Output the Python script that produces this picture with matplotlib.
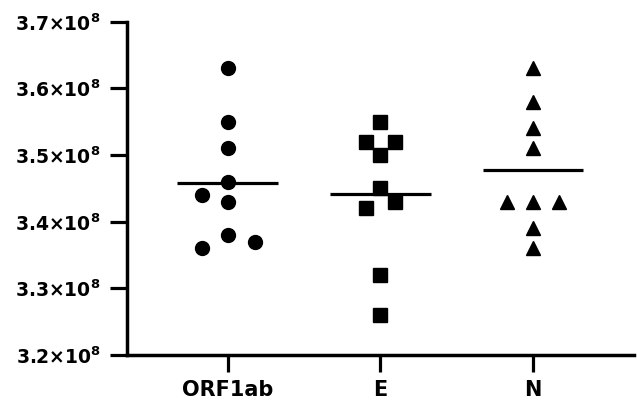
import numpy as np
import matplotlib
matplotlib.use("Agg")
from matplotlib import pyplot as plt
from matplotlib.ticker import FixedLocator, FuncFormatter

plt.rcParams['font.family'] = ['DejaVu Sans']
plt.rcParams['font.weight'] = 'bold'
plt.rcParams['mathtext.fontset'] = 'custom'
plt.rcParams['mathtext.rm'] = 'DejaVu Sans:bold'
plt.rcParams['mathtext.bf'] = 'DejaVu Sans:bold'
plt.rcParams['mathtext.it'] = 'DejaVu Sans:bold'

# data, values in units of 1e8
categories = ["ORF1ab", "E", "N"]
orf1ab = [3.63, 3.55, 3.51, 3.46, 3.44, 3.43, 3.38, 3.36, 3.37]
orf1ab_dx = [0, 0, 0, 0, -0.17, 0, 0, -0.17, 0.18]
e_gene = [3.55, 3.52, 3.52, 3.50, 3.45, 3.43, 3.42, 3.32, 3.26]
e_dx = [0, -0.095, 0.095, 0, 0, 0.095, -0.095, 0, 0]
n_gene = [3.63, 3.58, 3.54, 3.51, 3.43, 3.43, 3.43, 3.39, 3.36]
n_dx = [0, 0, 0, 0, -0.17, 0, 0.17, 0, 0]
yticks = [3.2, 3.3, 3.4, 3.5, 3.6, 3.7]

series = [(orf1ab, orf1ab_dx, 'o', 10), (e_gene, e_dx, 's', 9.5), (n_gene, n_dx, '^', 9.5)]

fig = plt.figure(figsize=(6.37, 4.04), dpi=100)
ax = fig.add_axes([0.1994, 0.121, 0.7956, 0.825])

for i, (vals, dx, mk, ms) in enumerate(series):
    x = i + np.array(dx)
    ax.plot(x, np.array(vals) * 1e8, linestyle='none', marker=mk, ms=ms,
            color='black', mec='black')
    m = np.mean(vals) * 1e8
    ax.plot([i - 0.33, i + 0.33], [m, m], color='black', lw=2.3,
            solid_capstyle='butt')

ax.set_xlim(-0.66, 2.66)
ax.set_ylim(3.2e8, 3.7e8)
ax.set_xticks(range(len(categories)))
ax.set_xticklabels(categories)
ax.yaxis.set_major_locator(FixedLocator([v * 1e8 for v in yticks]))
ax.yaxis.set_major_formatter(FuncFormatter(
    lambda v, p: r'$%.1f{\times}10^{8}$' % (v / 1e8)))

for s in ['top', 'right']:
    ax.spines[s].set_visible(False)
for s in ['left', 'bottom']:
    ax.spines[s].set_linewidth(2.5)
ax.tick_params(axis='both', direction='out', length=12, width=2.3)
ax.tick_params(axis='y', labelsize=13.5, pad=7)
ax.tick_params(axis='x', labelsize=15, pad=6)

fig.savefig("out.png", dpi=100)
